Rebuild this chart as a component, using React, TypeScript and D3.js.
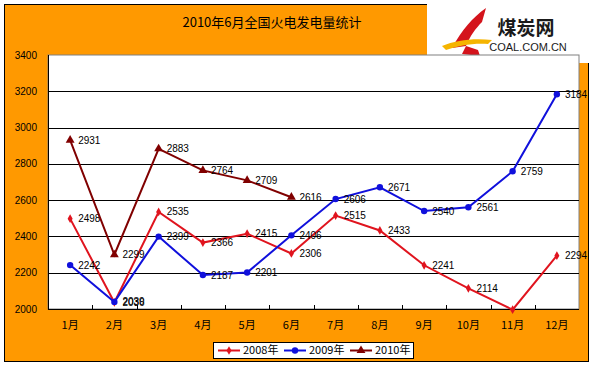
import React from 'react';
import * as d3 from 'd3';

const months = ['1月', '2月', '3月', '4月', '5月', '6月', '7月', '8月', '9月', '10月', '11月', '12月'];
const yTicks = [2000, 2200, 2400, 2600, 2800, 3000, 3200, 3400];
const values2008 = [2498, 2036, 2535, 2366, 2415, 2306, 2515, 2433, 2241, 2114, 1996, 2294];
const values2009 = [2242, 2039, 2399, 2187, 2201, 2406, 2606, 2671, 2540, 2561, 2759, 3184];
const values2010 = [2931, 2299, 2883, 2764, 2709, 2616];

const series = [
  { name: '2008年', values: values2008, color: '#e0141e', marker: 'diamond' },
  { name: '2009年', values: values2009, color: '#1010dc', marker: 'circle' },
  { name: '2010年', values: values2010, color: '#800000', marker: 'triangle' },
];

const W = 592;
const H = 366;
const plot = { left: 48, right: 579, top: 55, bottom: 309 };
const ORANGE = '#ff9900';
const FONT = '"Liberation Sans", Arial, sans-serif';
const CJK = '"Noto Sans CJK SC", sans-serif';

const Marker: React.FC<{ type: string; x: number; y: number; color: string }> = ({ type, x, y, color }) => {
  if (type === 'circle') return <circle cx={x} cy={y} r={3.2} fill={color} />;
  if (type === 'triangle') {
    const p = d3.symbol().type(d3.symbolTriangle).size(34)();
    return <path d={p!} transform={`translate(${x},${y})`} fill={color} />;
  }
  const p = d3.symbol().type(d3.symbolDiamond).size(22)();
  return <path d={p!} transform={`translate(${x},${y})`} fill={color} />;
};

export default function App() {
  const x = d3.scaleBand<string>().domain(months).range([plot.left, plot.right]);
  const y = d3.scaleLinear().domain([2000, 3400]).range([plot.bottom, plot.top]);
  const cx = (i: number) => x(months[i])! + x.bandwidth() / 2;

  const line = d3.line<number>()
    .x((_, i) => cx(i))
    .y(d => y(d));

  return (
    <svg width={W} height={H} style={{ position: 'absolute', left: 0, top: 0, fontFamily: FONT }}>
      <rect x={0} y={0} width={W} height={H} fill="#fff" />
      <rect x={4.5} y={4.5} width={584} height={357} fill={ORANGE} stroke="#000" strokeWidth={1} />

      {/* logo box */}
      <rect x={427} y={0} width={165} height={63} fill="#fff" />
      <path d="M452,48 C462,30 472,18 486,8 L482,22 C476,28 470,36 466,46 Z" fill="#d4141c" />
      <path d="M442,46 C456,40 474,38 492,40 L488,44 C472,43 458,46 446,50 Z" fill="#f5b400" />
      <path d="M466,46 L478,50 L480,56 L462,54 Z" fill="#d4141c" />
      <text x={526} y={35} textAnchor="middle" fontSize={19} fontWeight="bold" fontFamily={CJK} fill="#1a1a1a">煤炭网</text>
      <text x={528} y={51} textAnchor="middle" fontSize={11} fontFamily={FONT} fill="#1a1a1a">COAL.COM.CN</text>

      {/* title */}
      <text x={272} y={27} textAnchor="middle" fontSize={13} fontFamily={CJK} fill="#000">2010年6月全国火电发电量统计</text>

      {/* plot area */}
      <rect x={plot.left} y={plot.top} width={plot.right - plot.left} height={plot.bottom - plot.top} fill="#fff" stroke="#808080" strokeWidth={1} />
      {yTicks.slice(1, -1).map(t => (
        <line key={t} x1={plot.left} x2={plot.right} y1={Math.round(y(t)) + 0.5} y2={Math.round(y(t)) + 0.5} stroke="#000" />
      ))}
      <line x1={plot.left + 0.5} x2={plot.left + 0.5} y1={plot.top} y2={plot.bottom} stroke="#000" />
      <line x1={plot.left} x2={plot.right} y1={plot.bottom + 0.5} y2={plot.bottom + 0.5} stroke="#000" />
      {months.map((m, i) => i > 0 && (
        <line key={m} x1={Math.round(x(m)!) + 0.5} x2={Math.round(x(m)!) + 0.5} y1={plot.bottom - 4} y2={plot.bottom} stroke="#000" />
      ))}

      {yTicks.map(t => (
        <text key={t} x={37} y={y(t)} dy="0.35em" textAnchor="end" fontSize={10} fill="#000">{t}</text>
      ))}
      {months.map((m, i) => (
        <text key={m} x={cx(i)} y={325} dy="0.35em" textAnchor="middle" fontSize={11} fontFamily={CJK} fill="#000">{m}</text>
      ))}

      {series.map(s => (
        <g key={s.name}>
          <path d={line(s.values)!} fill="none" stroke={s.color} strokeWidth={2} />
          {s.values.map((v, i) => (
            <Marker key={i} type={s.marker} x={cx(i)} y={y(v)} color={s.color} />
          ))}
          {s.values.map((v, i) => v >= 2000 && (
            <text key={'l' + i} x={cx(i) + 8} y={y(v)} dy="0.35em" fontSize={10} fill="#000">{v}</text>
          ))}
        </g>
      ))}

      {/* legend */}
      <rect x={213.5} y={342.5} width={200} height={16} fill="#fff" stroke="#000" />
      {series.map((s, i) => {
        const lx = 218 + i * 66;
        return (
          <g key={s.name}>
            <line x1={lx} x2={lx + 22} y1={350.5} y2={350.5} stroke={s.color} strokeWidth={2} />
            <Marker type={s.marker} x={lx + 11} y={350.5} color={s.color} />
            <text x={lx + 25} y={350.5} dy="0.35em" fontSize={11} fontFamily={CJK} fill="#000">{s.name}</text>
          </g>
        );
      })}
    </svg>
  );
}
